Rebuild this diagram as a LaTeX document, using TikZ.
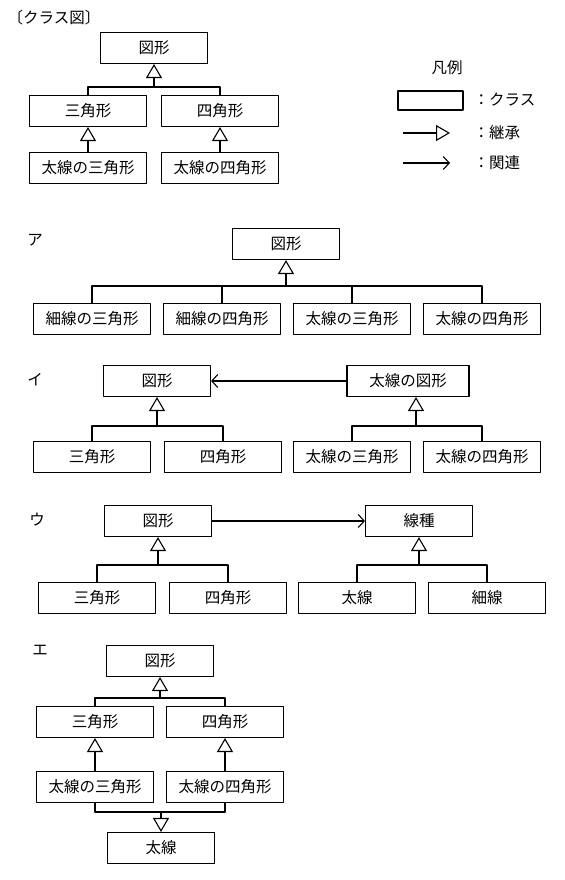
\documentclass[tikz,border=0pt]{standalone}
\usepackage{fontspec}
\setmainfont{Noto Sans CJK JP}
\usetikzlibrary{arrows.meta}
\begin{document}
\begin{tikzpicture}[x=1bp, y=-1bp, font=\fontsize{15.5bp}{18bp}\selectfont, line width=1.1bp, line join=round,
    cls/.style={draw, minimum width=117bp, minimum height=31bp, inner sep=0pt},
    clss/.style={cls, minimum width=107bp},
    inh/.style={-{Triangle[open, length=14bp, width=16bp]}},
    assoc/.style={-{Straight Barb[length=6bp, width=13bp]}}]
    \useasboundingbox (0,0) rectangle (565,880);
    % クラス図
    \node (title) at (54,18) {〔クラス図〕};
    \node[clss] (q0) at (154,48) {図形};
    \node[cls] (q1) at (88,111) {三角形};
    \node[cls] (q2) at (220,111) {四角形};
    \node[cls] (q3) at (88,168) {太線の三角形};
    \node[cls] (q4) at (220,168) {太線の四角形};
    \coordinate (qj) at (154,87);
    \draw[inh] (qj) -- (q0.south);
    \draw (q1.north) |- (qj) -| (q2.north);
    \draw[inh] (q3.north) -- (q1.south);
    \draw[inh] (q4.north) -- (q2.south);
    % 凡例
    \node (hanrei) at (447,68) {凡例};
    \node[draw, minimum width=65bp, minimum height=19bp, inner sep=0pt] (lgbox) at (430.5,100.5) {};
    \node[anchor=west, inner sep=0pt] (lgcls) at (473,100) {：クラス};
    \coordinate (lga) at (403,133); \coordinate (lgb) at (450,133);
    \draw[inh] (lga) -- (lgb);
    \node[anchor=west, inner sep=0pt] (lginh) at (473,133) {：継承};
    \coordinate (lgc) at (403,163); \coordinate (lgd) at (450,163);
    \draw[assoc] (lgc) -- (lgd);
    \node[anchor=west, inner sep=0pt] (lgas) at (473,163) {：関連};
    % ア
    \node (labA) at (35,240) {ア};
    \node[clss] (a0) at (286,244) {図形};
    \node[cls] (a1) at (92,319) {細線の三角形};
    \node[cls] (a2) at (222,319) {細線の四角形};
    \node[cls] (a3) at (352,319) {太線の三角形};
    \node[cls] (a4) at (482,319) {太線の四角形};
    \coordinate (aj) at (286,286);
    \draw[inh] (aj) -- (a0.south);
    \draw (a1.north) |- (aj) -| (a4.north);
    \foreach \n in {a2,a3} \draw (\n.north) -- (\n.north |- aj);
    % イ
    \node (labB) at (35,380) {イ};
    \node[clss] (b0) at (157,381) {図形};
    \node[cls, minimum width=122bp] (b5) at (408,381) {太線の図形};
    \draw[assoc] (b5.west) -- (b0.east);
    \node[cls] (b1) at (92,457) {三角形};
    \node[cls] (b2) at (223,457) {四角形};
    \node[cls] (b3) at (352,457) {太線の三角形};
    \node[cls] (b4) at (482,457) {太線の四角形};
    \coordinate (bj) at (157,426);
    \coordinate (bk) at (416,426);
    \draw[inh] (bj) -- (b0.south);
    \draw[inh] (bk) -- (bk |- b5.south);
    \draw (b1.north) |- (bj) -| (b2.north);
    \draw (b3.north) |- (bk) -| (b4.north);
    % ウ
    \node (labC) at (37,520) {ウ};
    \node[clss] (c0) at (158,521) {図形};
    \node[clss] (c5) at (419,521) {線種};
    \draw[assoc] (c0.east) -- (c5.west);
    \node[cls] (c1) at (97,598) {三角形};
    \node[cls] (c2) at (228,598) {四角形};
    \node[cls] (c3) at (357,598) {太線};
    \node[cls] (c4) at (487,598) {細線};
    \coordinate (cj) at (158,565);
    \coordinate (ck) at (419,565);
    \draw[inh] (cj) -- (c0.south);
    \draw[inh] (ck) -- (c5.south);
    \draw (c1.north) |- (cj) -| (c2.north);
    \draw (c3.north) |- (ck) -| (c4.north);
    % エ
    \node (labD) at (40,650) {エ};
    \node[clss] (d0) at (160,661) {図形};
    \node[cls] (d1) at (95,722) {三角形};
    \node[cls] (d2) at (225,722) {四角形};
    \node[cls] (d3) at (95,787) {太線の三角形};
    \node[cls] (d4) at (225,787) {太線の四角形};
    \node[clss] (d5) at (161,848) {太線};
    \coordinate (dj) at (160,698);
    \coordinate (dk) at (161,812);
    \draw[inh] (dj) -- (d0.south);
    \draw (d1.north) |- (dj) -| (d2.north);
    \draw[inh] (d3.north) -- (d1.south);
    \draw[inh] (d4.north) -- (d2.south);
    \draw (d3.south) |- (dk) -| (d4.south);
    \draw[inh] (dk) -- (d5.north);
\end{tikzpicture}
\end{document}
